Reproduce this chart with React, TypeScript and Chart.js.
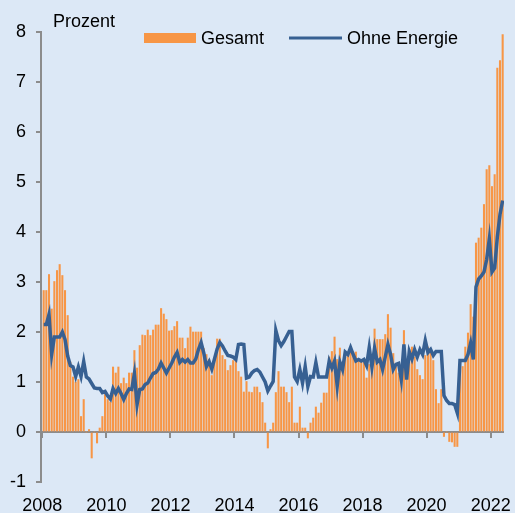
import React, { useEffect, useRef } from "react";
import { Chart, registerables } from "chart.js";

Chart.register(...registerables);

// ---- data ----
const START_YEAR = 2008; // first month: January 2008, monthly values
const yearTicks = [2008, 2010, 2012, 2014, 2016, 2018, 2020, 2022];
const yAxisMin = -1;
const yAxisMax = 8;
const unitLabel = "Prozent";
const seriesNames = ["Gesamt", "Ohne Energie"];

// Gesamt (bars), Jan 2008 .. May 2022
const gesamt = [
  2.83, 2.83, 3.15, 2.46, 3.01, 3.23, 3.35, 3.13, 2.83, 2.33, 1.4, 1.1, // 2008
  1.0, 1.05, 0.31, 0.65, 0.0, 0.05, -0.52, 0.0, -0.22, 0.08, 0.31, 0.75, // 2009
  0.65, 0.6, 1.3, 1.18, 1.3, 0.97, 1.08, 0.97, 1.18, 1.18, 1.63, 1.28, // 2010
  1.73, 1.94, 1.93, 2.04, 1.93, 2.04, 2.14, 2.14, 2.47, 2.36, 2.25, 2.02, // 2011
  2.03, 2.11, 2.21, 1.88, 1.88, 1.67, 1.88, 2.1, 2.0, 2.0, 2.0, 2.0, // 2012
  1.67, 1.55, 1.45, 1.13, 1.45, 1.86, 1.86, 1.53, 1.45, 1.23, 1.33, 1.43, // 2013
  1.43, 1.21, 1.1, 0.8, 1.01, 0.8, 0.79, 0.9, 0.9, 0.79, 0.59, 0.18, // 2014
  -0.32, 0.05, 0.18, 0.79, 1.21, 0.9, 0.9, 0.79, 0.59, 0.9, 0.18, 0.18, // 2015
  0.5, 0.08, 0.08, -0.12, 0.18, 0.28, 0.5, 0.38, 0.58, 0.78, 0.78, 1.5, // 2016
  1.61, 1.9, 1.45, 1.68, 1.4, 1.5, 1.55, 1.68, 1.6, 1.6, 1.45, 1.45, // 2017
  1.4, 1.08, 1.35, 1.5, 2.06, 1.85, 1.85, 1.85, 1.95, 2.35, 2.08, 1.57, // 2018
  1.31, 1.18, 1.05, 2.03, 1.28, 1.65, 1.7, 1.5, 1.25, 1.13, 1.05, 1.53, // 2019
  1.7, 1.65, 1.43, 0.85, 0.57, 0.85, -0.09, 0.0, -0.19, -0.2, -0.29, -0.29, // 2020
  1.35, 1.31, 1.7, 1.98, 2.55, 2.3, 3.78, 3.88, 4.08, 4.55, 5.25, 5.33, // 2021
  4.91, 5.15, 7.28, 7.43, 7.95, // 2022
];

// Ohne Energie (line), Jan 2008 .. May 2022
const ohneEnergie = [
  2.15, 2.15, 2.35, 1.55, 1.9, 1.9, 1.9, 2.0, 1.85, 1.52, 1.33, 1.3, // 2008
  1.11, 1.3, 1.11, 1.41, 1.1, 1.06, 0.97, 0.88, 0.87, 0.87, 0.79, 0.81, // 2009
  0.72, 0.66, 0.87, 0.77, 0.87, 0.77, 0.65, 0.77, 0.86, 0.85, 1.17, 0.55, // 2010
  0.85, 0.86, 0.95, 0.98, 1.08, 1.17, 1.19, 1.26, 1.38, 1.28, 1.18, 1.28, // 2011
  1.38, 1.5, 1.59, 1.39, 1.45, 1.4, 1.45, 1.38, 1.38, 1.46, 1.65, 1.79, // 2012
  1.58, 1.31, 1.41, 1.26, 1.46, 1.66, 1.79, 1.72, 1.62, 1.53, 1.52, 1.5, // 2013
  1.45, 1.75, 1.76, 1.75, 1.08, 1.1, 1.18, 1.23, 1.25, 1.2, 1.1, 1.0, // 2014
  0.82, 0.92, 1.01, 2.03, 1.83, 1.73, 1.81, 1.91, 2.01, 2.01, 1.1, 1.01, // 2015
  1.25, 0.98, 1.31, 0.91, 1.11, 1.1, 1.39, 1.1, 1.1, 1.1, 1.1, 1.42, // 2016
  1.28, 1.42, 0.92, 1.4, 1.25, 1.6, 1.55, 1.69, 1.55, 1.42, 1.45, 1.42, // 2017
  1.45, 1.33, 1.69, 1.3, 1.68, 1.4, 1.45, 1.25, 1.5, 1.75, 1.55, 1.25, // 2018
  1.35, 1.37, 1.05, 1.75, 1.05, 1.61, 1.46, 1.65, 1.5, 1.65, 1.55, 1.83, // 2019
  1.59, 1.65, 1.53, 1.61, 1.61, 1.61, 0.73, 0.63, 0.57, 0.57, 0.55, 0.38, // 2020
  1.43, 1.43, 1.43, 1.55, 1.78, 1.45, 2.9, 3.06, 3.12, 3.2, 3.45, 3.86, // 2021
  3.2, 3.28, 3.9, 4.35, 4.63, // 2022
];

// ---- styles ----
const BG = "#dce8f6";
const ORANGE = "#f79646";
const BLUE = "#376092";
const GREY = "#8c8c8c";
const FONT = '"Liberation Sans", Arial, sans-serif';

export default function App() {
  const ref = useRef<HTMLCanvasElement>(null);

  useEffect(() => {
    document.body.style.margin = "0";
    document.body.style.background = BG;
    const canvas = ref.current;
    if (!canvas) return;

    const decor = {
      id: "decor",
      afterDraw(chart: any) {
        const { ctx, scales } = chart;
        const y0 = scales.y.getPixelForValue(0);
        ctx.save();
        // x tick marks hanging from the zero line
        ctx.strokeStyle = GREY;
        ctx.lineWidth = 2;
        scales.x.ticks.forEach((t: any) => {
          const px = Math.round(scales.x.getPixelForValue(t.value));
          ctx.beginPath();
          ctx.moveTo(px, y0);
          ctx.lineTo(px, y0 + 6);
          ctx.stroke();
        });
        // unit label
        ctx.font = `18px ${FONT}`;
        ctx.fillStyle = "#000";
        ctx.textBaseline = "alphabetic";
        ctx.textAlign = "left";
        ctx.fillText(unitLabel, 53, 27);
        // legend
        ctx.fillStyle = ORANGE;
        ctx.fillRect(144, 33, 52, 10);
        ctx.fillStyle = "#000";
        ctx.fillText(seriesNames[0], 201, 44);
        ctx.strokeStyle = BLUE;
        ctx.lineWidth = 3;
        ctx.beginPath();
        ctx.moveTo(289, 38);
        ctx.lineTo(342, 38);
        ctx.stroke();
        ctx.fillText(seriesNames[1], 347, 44);
        ctx.restore();
      },
    };

    const chart = new Chart(canvas, {
      type: "bar",
      data: {
        datasets: [
          {
            type: "line",
            label: seriesNames[1],
            data: ohneEnergie.map((v, i) => ({ x: i, y: v })),
            borderColor: BLUE,
            borderWidth: 3.5,
            pointRadius: 0,
            tension: 0,
            fill: false,
            order: 1,
          } as any,
          {
            type: "bar",
            label: seriesNames[0],
            data: gesamt.map((v, i) => ({ x: i, y: v })),
            backgroundColor: ORANGE,
            borderWidth: 0,
            barThickness: 1.4,
            order: 2,
          } as any,
        ],
      },
      options: {
        responsive: false,
        animation: false,
        devicePixelRatio: 1,
        layout: { padding: { top: 32, right: 11, left: 0, bottom: 0 } },
        plugins: { legend: { display: false }, tooltip: { enabled: false } },
        scales: {
          x: {
            type: "linear",
            min: -1,
            max: 172.5,
            offset: false,
            afterBuildTicks: (scale: any) => {
              scale.ticks = yearTicks.map((yr) => ({ value: (yr - START_YEAR) * 12 - 0.5 }));
            },
            afterFit: (scale: any) => {
              scale.height = 31;
              scale.paddingLeft = 0;
              scale.paddingRight = 0;
            },
            grid: { display: false, drawTicks: false },
            border: { display: false },
            ticks: {
              autoSkip: false,
              maxRotation: 0,
              padding: 13,
              color: "#000",
              font: { size: 18, family: FONT },
              callback: (_v: any, i: number) => String(yearTicks[i]),
            },
          },
          y: {
            min: yAxisMin,
            max: yAxisMax,
            afterFit: (scale: any) => {
              scale.width = 41;
              scale.paddingTop = 0;
              scale.paddingBottom = 0;
            },
            ticks: {
              stepSize: 1,
              padding: 10,
              color: "#000",
              font: { size: 18, family: FONT },
            },
            grid: {
              color: (c: any) => (c.tick && c.tick.value === 0 ? GREY : "rgba(0,0,0,0)"),
              lineWidth: 2,
              tickColor: GREY,
              tickLength: 5,
              tickWidth: 2,
            },
            border: { display: true, color: GREY, width: 2 },
          },
        },
      },
      plugins: [decor],
    });

    return () => chart.destroy();
  }, []);

  return (
    <div style={{ width: 515, height: 513, background: BG }}>
      <canvas ref={ref} width={515} height={513} style={{ display: "block" }} />
    </div>
  );
}
